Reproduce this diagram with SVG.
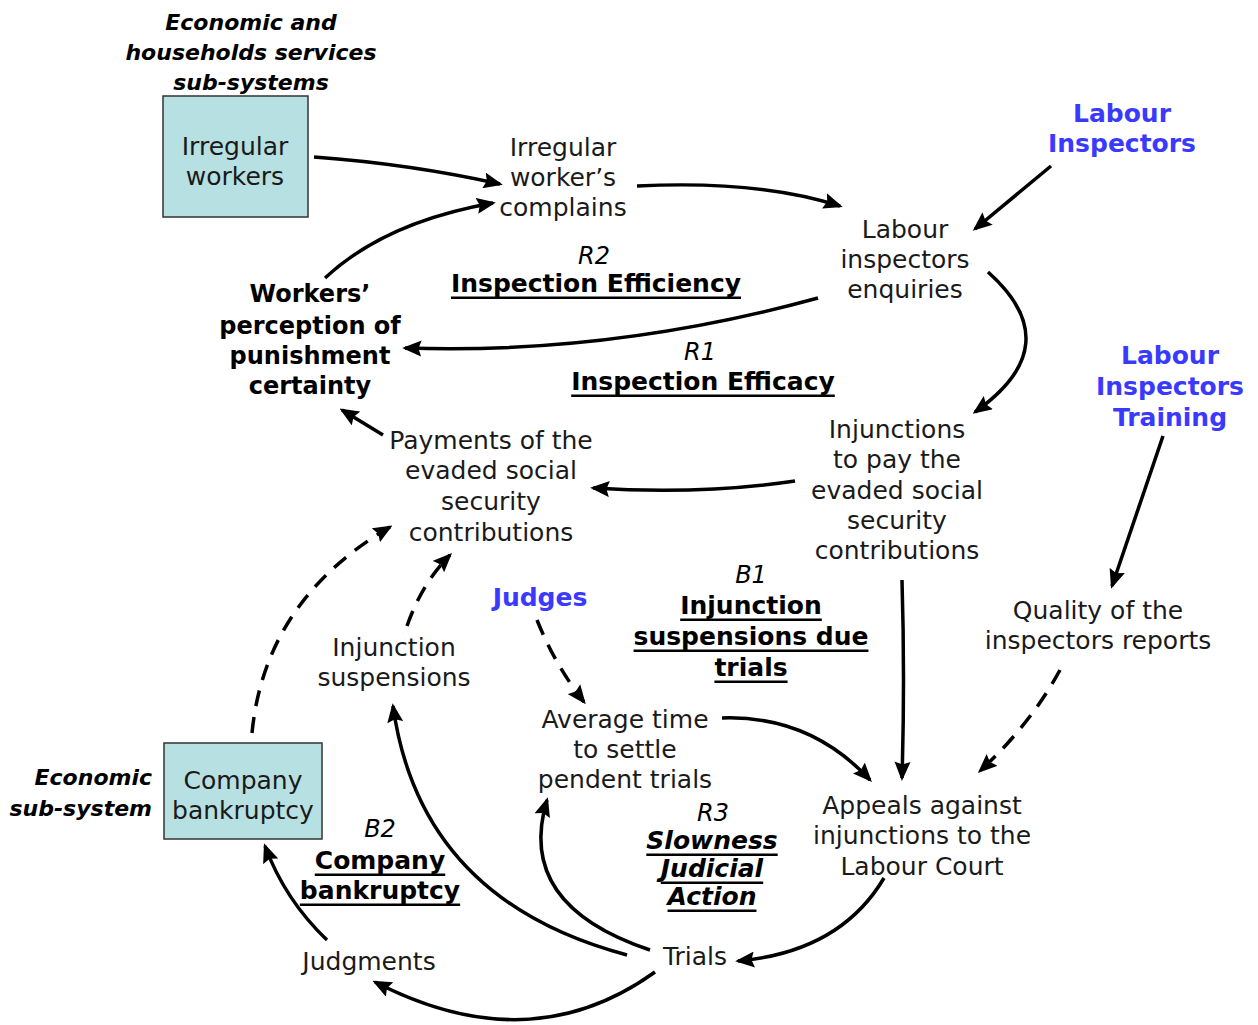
<svg xmlns="http://www.w3.org/2000/svg" width="1258" height="1025" viewBox="0 0 1258 1025">
<style>
text{font-family:"DejaVu Sans","Verdana",sans-serif;text-anchor:middle;dominant-baseline:central;fill:#1a1a1a}
.r{font-size:25px}
.b{font-size:24px;font-weight:bold;fill:#000}
.bl{font-size:25px;font-weight:bold;fill:#3a3aff}
.sub{font-size:22px;font-weight:bold;font-style:italic;fill:#000}
.it{font-size:24px;font-style:italic;fill:#000}
.lp{font-size:25px;font-weight:bold;text-decoration:underline;fill:#000}
.lpi{font-size:25px;font-weight:bold;font-style:italic;text-decoration:underline;fill:#000}
.box{fill:#b7e0e2;stroke:#333;stroke-width:1.5}
.c{fill:none;stroke:#000;stroke-width:3.5;marker-end:url(#ah)}
.d{stroke-dasharray:16 11}
</style>
<defs>
<marker id="ah" viewBox="0 0 10 10" refX="8.5" refY="5" markerWidth="5.5" markerHeight="4.6" orient="auto" markerUnits="strokeWidth" preserveAspectRatio="none">
<path d="M0,0 L10,5 L0,10 L1.5,5 z" fill="#000"/>
</marker>
</defs>

<g id="label-econ-households">
<text class="sub" x="251" y="22">Economic and</text>
<text class="sub" x="251" y="52">households services</text>
<text class="sub" x="251" y="82">sub-systems</text>
</g>
<g id="irregular-workers">
<rect class="box" x="163" y="96" width="145" height="121"/>
<text class="r" x="235" y="146">Irregular</text>
<text class="r" x="235" y="176">workers</text>
</g>
<g id="complains">
<text class="r" x="563" y="147">Irregular</text>
<text class="r" x="563" y="177">worker’s</text>
<text class="r" x="563" y="207">complains</text>
</g>
<g id="labour-inspectors">
<text class="bl" x="1122" y="113">Labour</text>
<text class="bl" x="1122" y="143">Inspectors</text>
</g>
<g id="enquiries">
<text class="r" x="905" y="229">Labour</text>
<text class="r" x="905" y="259">inspectors</text>
<text class="r" x="905" y="289">enquiries</text>
</g>
<g id="loop-r2">
<text class="it" x="594" y="256">R2</text>
<text class="lp" x="596" y="283">Inspection Efficiency</text>
</g>
<g id="perception">
<text class="b" x="310" y="294">Workers’</text>
<text class="b" x="310" y="326">perception of</text>
<text class="b" x="310" y="356">punishment</text>
<text class="b" x="310" y="386">certainty</text>
</g>
<g id="loop-r1">
<text class="it" x="700" y="352">R1</text>
<text class="lp" x="703" y="381">Inspection Efficacy</text>
</g>
<g id="training">
<text class="bl" x="1170" y="355">Labour</text>
<text class="bl" x="1170" y="386">Inspectors</text>
<text class="bl" x="1170" y="417">Training</text>
</g>
<g id="payments">
<text class="r" x="491" y="440">Payments of the</text>
<text class="r" x="491" y="470">evaded social</text>
<text class="r" x="491" y="501">security</text>
<text class="r" x="491" y="532">contributions</text>
</g>
<g id="injunctions">
<text class="r" x="897" y="429">Injunctions</text>
<text class="r" x="897" y="459">to pay the</text>
<text class="r" x="897" y="490">evaded social</text>
<text class="r" x="897" y="520">security</text>
<text class="r" x="897" y="550">contributions</text>
</g>
<g id="loop-b1">
<text class="it" x="751" y="575">B1</text>
<text class="lp" x="751" y="605">Injunction</text>
<text class="lp" x="751" y="636">suspensions due</text>
<text class="lp" x="751" y="667">trials</text>
</g>
<g id="judges">
<text class="bl" x="540" y="597">Judges</text>
</g>
<g id="injunction-suspensions">
<text class="r" x="394" y="647">Injunction</text>
<text class="r" x="394" y="677">suspensions</text>
</g>
<g id="quality">
<text class="r" x="1098" y="610">Quality of the</text>
<text class="r" x="1098" y="640">inspectors reports</text>
</g>
<g id="average-time">
<text class="r" x="625" y="719">Average time</text>
<text class="r" x="625" y="749">to settle</text>
<text class="r" x="625" y="779">pendent trials</text>
</g>
<g id="label-econ">
<text class="sub" x="152" y="777" style="text-anchor:end">Economic</text>
<text class="sub" x="152" y="808" style="text-anchor:end">sub-system</text>
</g>
<g id="company-bankruptcy">
<rect class="box" x="164" y="743" width="158" height="96"/>
<text class="r" x="243" y="780">Company</text>
<text class="r" x="243" y="810">bankruptcy</text>
</g>
<g id="loop-b2">
<text class="it" x="380" y="829">B2</text>
<text class="lp" x="380" y="860">Company</text>
<text class="lp" x="380" y="890">bankruptcy</text>
</g>
<g id="loop-r3">
<text class="it" x="713" y="813">R3</text>
<text class="lpi" x="712" y="840">Slowness</text>
<text class="lpi" x="712" y="868">Judicial</text>
<text class="lpi" x="712" y="896">Action</text>
</g>
<g id="appeals">
<text class="r" x="922" y="805">Appeals against</text>
<text class="r" x="922" y="835">injunctions to the</text>
<text class="r" x="922" y="866">Labour Court</text>
</g>
<g id="trials">
<text class="r" x="695" y="956">Trials</text>
</g>
<g id="judgments">
<text class="r" x="369" y="961">Judgments</text>
</g>

<g id="connectors">
<path class="c" d="M314,157 Q410,164 500,184"/>
<path class="c" d="M325,278 Q385,222 493,203"/>
<path class="c" d="M637,186 Q760,180 840,206"/>
<path class="c" d="M1051,166 L975,229"/>
<path class="c" d="M818,298 Q610,355 405,348"/>
<path class="c" d="M988,272 Q1070,345 975,412"/>
<path class="c" d="M795,481 Q700,495 593,488"/>
<path class="c" d="M383,435 L342,410"/>
<path class="c" d="M1163,436 L1112,586"/>
<path class="c" d="M902,580 Q905,680 902,778"/>
<path class="c d" d="M1060,670 Q1030,725 980,771"/>
<path class="c" d="M722,718 Q810,715 870,780"/>
<path class="c d" d="M537,620 Q555,665 584,702"/>
<path class="c" d="M884,878 Q840,952 738,961"/>
<path class="c" d="M627,955 Q420,900 393,706"/>
<path class="c" d="M650,950 Q515,905 547,800"/>
<path class="c" d="M655,972 Q530,1062 375,982"/>
<path class="c" d="M327,940 Q285,900 265,846"/>
<path class="c d" d="M252,733 Q265,600 390,527"/>
<path class="c d" d="M407,626 Q422,583 450,555"/>
</g>
</svg>
